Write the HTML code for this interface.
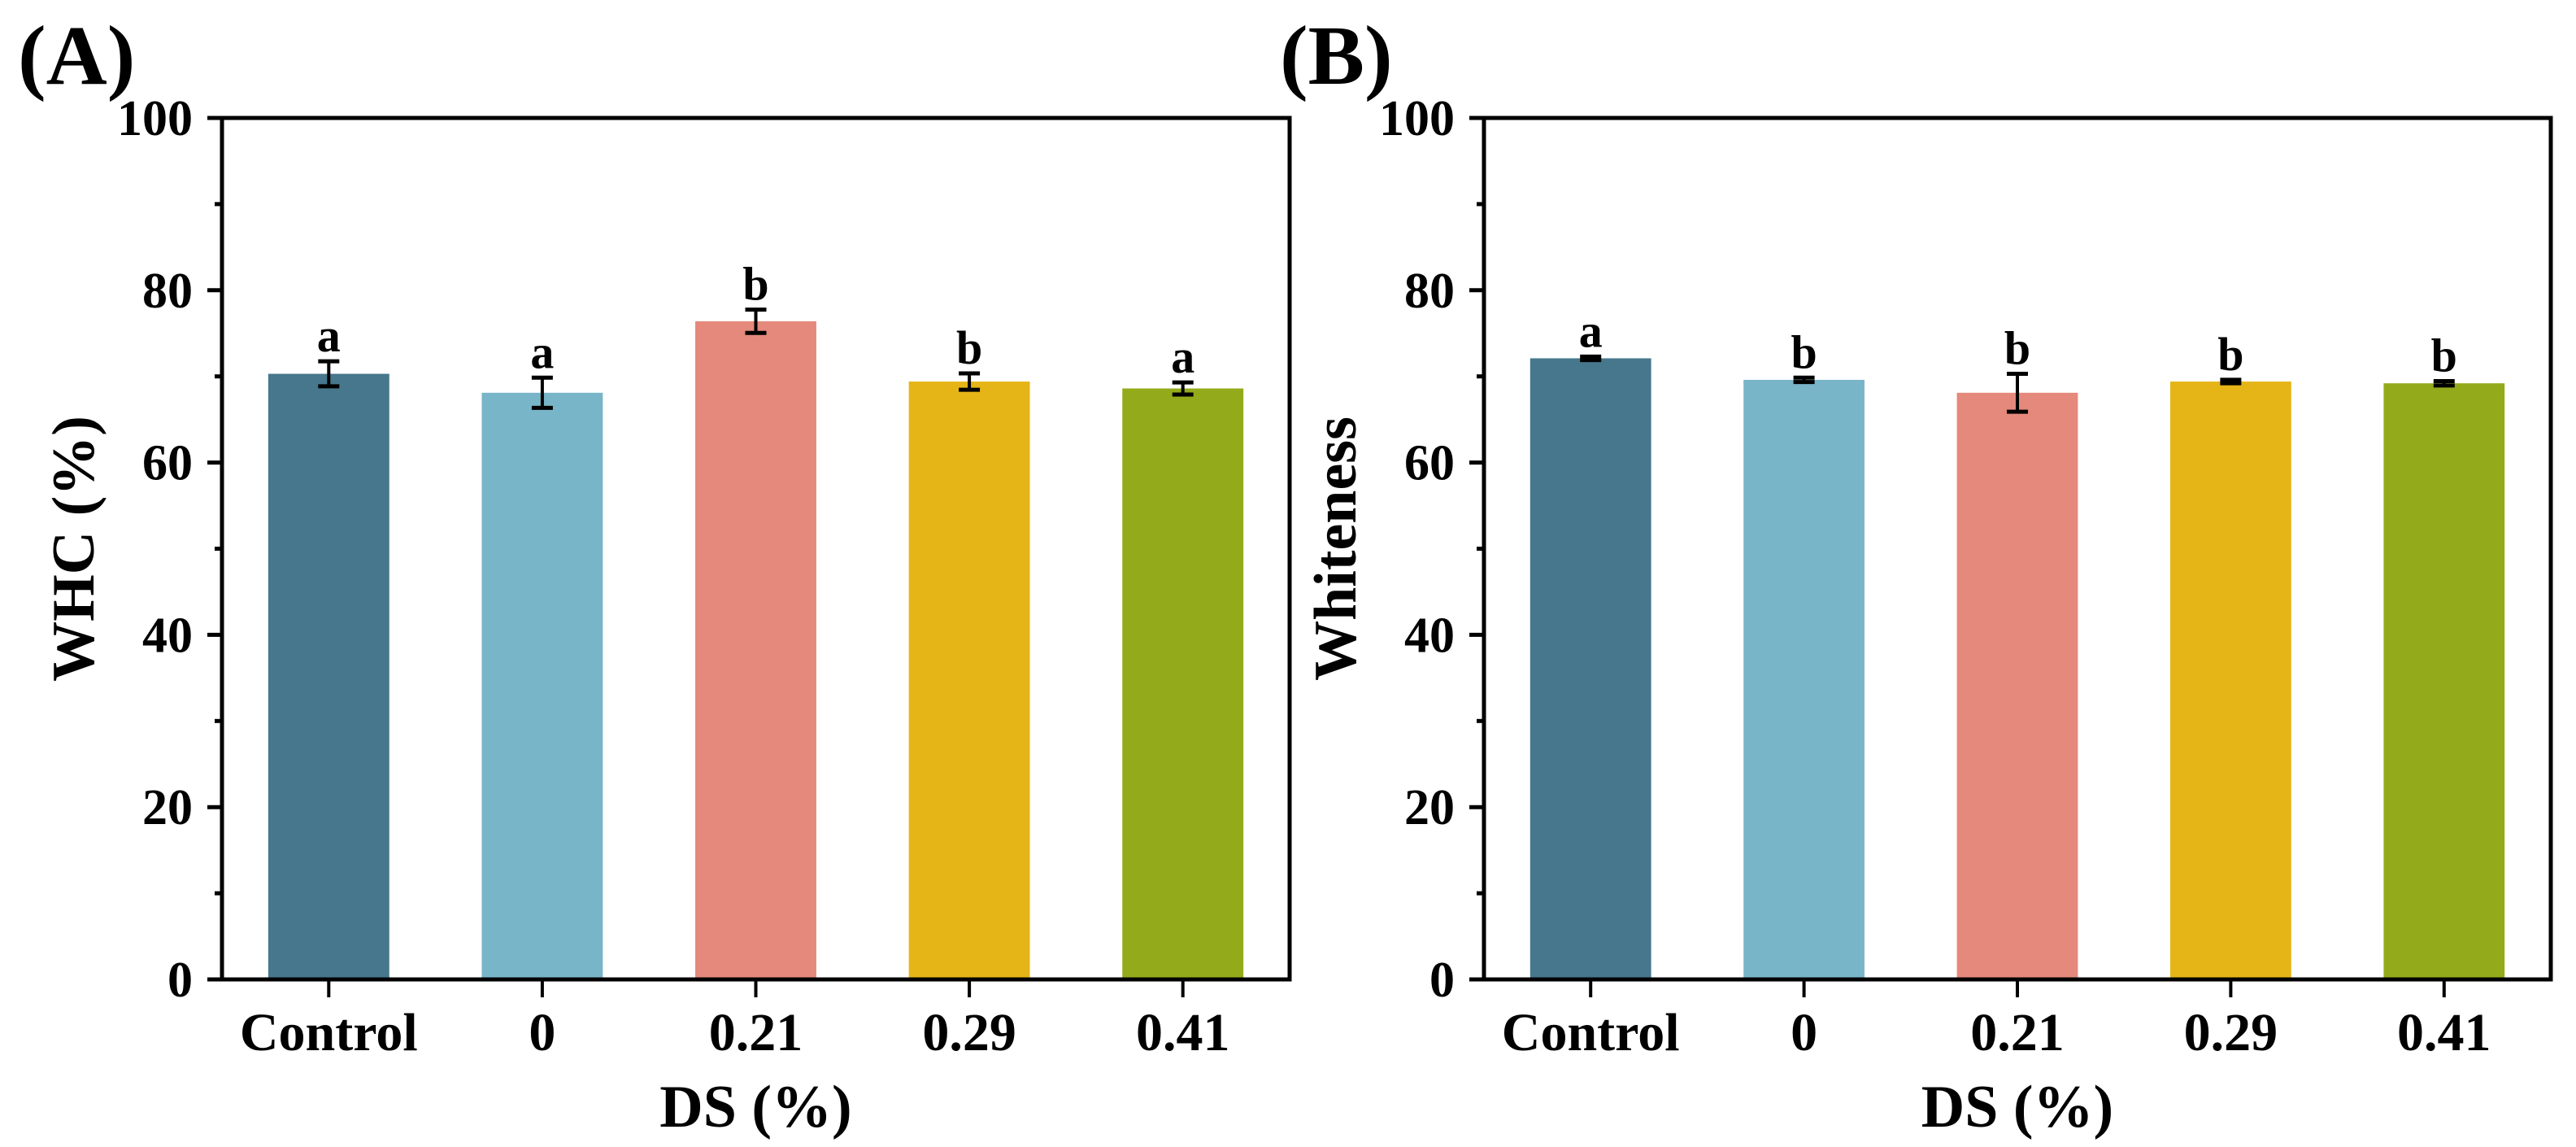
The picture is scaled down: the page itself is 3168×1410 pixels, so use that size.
<!DOCTYPE html>
<html><head><meta charset="utf-8"><style>
html,body{margin:0;padding:0;background:#fff;}
svg{display:block;}
text{font-family:"Liberation Serif","Times New Roman",serif;font-weight:bold;fill:#000;}
</style></head>
<body>
<svg id="chart" width="3168" height="1410" viewBox="0 0 3168 1410" xmlns="http://www.w3.org/2000/svg"></svg>
<script>
const categories = ["Control","0","0.21","0.29","0.41"];
const colors = ["#46778c","#79b5c9","#e4897b","#e5b517","#93ab1a"];
const whcValues = [70.3, 68.1, 76.4, 69.4, 68.6];
const whcErrors = [1.45, 1.75, 1.35, 0.95, 0.7];
const whcLetters = ["a","a","b","b","a"];
const whiteValues = [72.1, 69.6, 68.1, 69.4, 69.2];
const whiteErrors = [0.2, 0.25, 2.2, 0.2, 0.25];
const whiteLetters = ["a","b","b","b","b"];
const yTicks = [0,20,40,60,80,100];
const yMinorTicks = [10,30,50,70,90];

const NS = "http://www.w3.org/2000/svg";
const svg = document.getElementById('chart');
function mk(tag, attrs, parent, txt){
  const e = document.createElementNS(NS, tag);
  for (const k in attrs) e.setAttribute(k, attrs[k]);
  if (txt !== undefined) e.textContent = txt;
  (parent || svg).appendChild(e);
  return e;
}

function panel(id, x0, x1, values, errors, letters, yTitle, panelLabel, labelX){
  const top = 145, bottom = 1204;
  const y = v => bottom - (v/100)*(bottom-top);
  const band = (x1-x0)/categories.length;
  const xc = i => x0 + band*(i+0.5);
  const barW = band*0.567;
  const g = mk('g', {});
  
  

  const lbl = mk('text', {x: labelX, y: 103, 'font-size': 104}, g, panelLabel);
  
  

  // bars
  values.forEach((v, i) => {
    const r = mk('rect', {x: xc(i)-barW/2, y: y(v), width: barW, height: bottom - y(v), fill: colors[i]}, g);
    
    
    const e = errors[i];
    const eg = mk('g', {stroke: '#000'}, g);
    
    
    mk('line', {x1: xc(i), x2: xc(i), y1: y(v+e), y2: y(v-e), 'stroke-width': 4}, eg);
    mk('line', {x1: xc(i)-13, x2: xc(i)+13, y1: y(v+e), y2: y(v+e), 'stroke-width': 5}, eg);
    mk('line', {x1: xc(i)-13, x2: xc(i)+13, y1: y(v-e), y2: y(v-e), 'stroke-width': 5}, eg);
    const t = mk('text', {x: xc(i), y: y(v+e) - 12, 'font-size': 58, 'text-anchor': 'middle'}, g, letters[i]);
    
    
    const tk = mk('line', {x1: xc(i), x2: xc(i), y1: bottom, y2: bottom + 22, stroke: '#000', 'stroke-width': 4}, g);
    
    
    const tl = mk('text', {x: xc(i), y: 1291, 'font-size': 66, 'text-anchor': 'middle'}, g, categories[i]);
    
    
  });

  // axes box
  const box = mk('rect', {x: x0, y: top, width: x1-x0, height: bottom-top, fill: 'none', stroke: '#000', 'stroke-width': 5}, g);
  
  

  yTicks.forEach(v => {
    const l = mk('line', {x1: x0-18, x2: x0, y1: y(v), y2: y(v), stroke: '#000', 'stroke-width': 5}, g);
    
    
    const t = mk('text', {x: x0-36, y: y(v)+21, 'font-size': 62, 'text-anchor': 'end'}, g, String(v));
    
    
  });
  yMinorTicks.forEach(v => {
    const l = mk('line', {x1: x0-9, x2: x0, y1: y(v), y2: y(v), stroke: '#000', 'stroke-width': 5}, g);
    
    
  });

  const yt = mk('text', {x: 0, y: 0, 'font-size': 74, 'text-anchor': 'middle', transform: `translate(${x0-158},${(top+bottom)/2}) rotate(-90)`}, g, yTitle);
  
  
  const xt = mk('text', {x: (x0+x1)/2, y: 1385, 'font-size': 74, 'text-anchor': 'middle'}, g, 'DS (%)');
  
  
}

panel('whc', 273, 1586, whcValues, whcErrors, whcLetters, 'WHC (%)', '(A)', 22);
panel('whiteness', 1825, 3137, whiteValues, whiteErrors, whiteLetters, 'Whiteness', '(B)', 1574);
</script>
</body></html>
